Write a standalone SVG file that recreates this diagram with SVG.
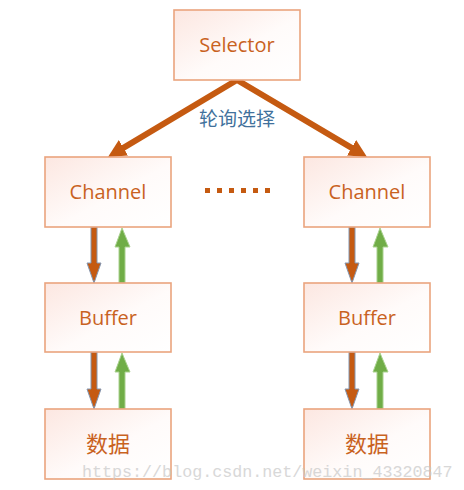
<svg xmlns="http://www.w3.org/2000/svg" width="464" height="490" viewBox="0 0 464 490">
<defs>
<linearGradient id="bg" x1="0" y1="0" x2="1" y2="1">
<stop offset="0" stop-color="#fce7e1"/>
<stop offset="0.55" stop-color="#fffbfa"/>
<stop offset="1" stop-color="#ffffff"/>
</linearGradient>
<marker id="ah" viewBox="0 0 18 18" refX="4" refY="9" markerWidth="18" markerHeight="18" markerUnits="userSpaceOnUse" orient="auto-start-reverse">
<path d="M0,0 L18,9 L0,18 z" fill="#c55a11"/>
</marker>
<style>
.box{fill:url(#bg);stroke:#eaa47e;stroke-width:1.6}
.t{font-family:"Open Sans","Noto Sans",sans-serif;font-size:20px;fill:#c9621f;text-anchor:middle}
.cjk{font-family:"Noto Sans CJK SC",sans-serif;font-size:22px;fill:#c9621f;text-anchor:middle}
.dn{fill:#c55a11;stroke:#8496b0;stroke-width:1;stroke-linejoin:miter}
.up{fill:#70ad47;stroke:#a9d18e;stroke-width:1}
.dot{fill:#c55a11}
</style>
</defs>
<rect width="464" height="490" fill="#ffffff"/>
<g id="connectors">
<path d="M120,149.8 L237,80 L355,149.9" fill="none" stroke="#c55a11" stroke-width="6" stroke-linejoin="miter" marker-start="url(#ah)" marker-end="url(#ah)"/>
<polygon class="dn" points="91,227 97,227 97,263 101,263 94,283 87,263 91,263"/>
<polygon class="up" points="119,283 125,283 125,247 130,247 122,228 115,247 119,247"/>
<polygon class="dn" points="91,352 97,352 97,389 101,389 94,409 87,389 91,389"/>
<polygon class="up" points="119,409 125,409 125,372 130,372 122,353 115,372 119,372"/>
<polygon class="dn" points="349,227 355,227 355,263 359,263 352,283 345,263 349,263"/>
<polygon class="up" points="377,283 383,283 383,247 388,247 380,228 373,247 377,247"/>
<polygon class="dn" points="349,352 355,352 355,389 359,389 352,409 345,389 349,389"/>
<polygon class="up" points="377,409 383,409 383,372 388,372 380,353 373,372 377,372"/>
<text x="237" y="126" font-family="Noto Sans CJK SC,sans-serif" font-size="19" fill="#41719c" text-anchor="middle">轮询选择</text>
</g>
<g id="selector"><rect class="box" x="174" y="10" width="126" height="70"/><text class="t" x="237" y="52">Selector</text></g>
<g id="channel1"><rect class="box" x="45" y="157" width="126" height="70"/><text class="t" x="108" y="199">Channel</text></g>
<g id="buffer1"><rect class="box" x="45" y="283" width="126" height="69"/><text class="t" x="108" y="325">Buffer</text></g>
<g id="data1"><rect class="box" x="45" y="409" width="126" height="70"/><text class="cjk" x="108" y="452">数据</text></g>
<g id="channel2"><rect class="box" x="304" y="157" width="126" height="70"/><text class="t" x="367" y="199">Channel</text></g>
<g id="buffer2"><rect class="box" x="304" y="283" width="126" height="69"/><text class="t" x="367" y="325">Buffer</text></g>
<g id="data2"><rect class="box" x="304" y="409" width="126" height="70"/><text class="cjk" x="367" y="452">数据</text></g>
<g id="ellipsis">
<rect class="dot" x="205" y="188" width="5" height="5"/>
<rect class="dot" x="217" y="188" width="5" height="5"/>
<rect class="dot" x="229" y="188" width="5" height="5"/>
<rect class="dot" x="241" y="188" width="5" height="5"/>
<rect class="dot" x="253" y="188" width="5" height="5"/>
<rect class="dot" x="265" y="188" width="5" height="5"/>
</g>
<text x="82" y="477" font-family="Liberation Mono,monospace" font-size="16.7" fill="#c8c8c8" opacity="0.7">https://blog.csdn.net/weixin_43320847</text>
</svg>
